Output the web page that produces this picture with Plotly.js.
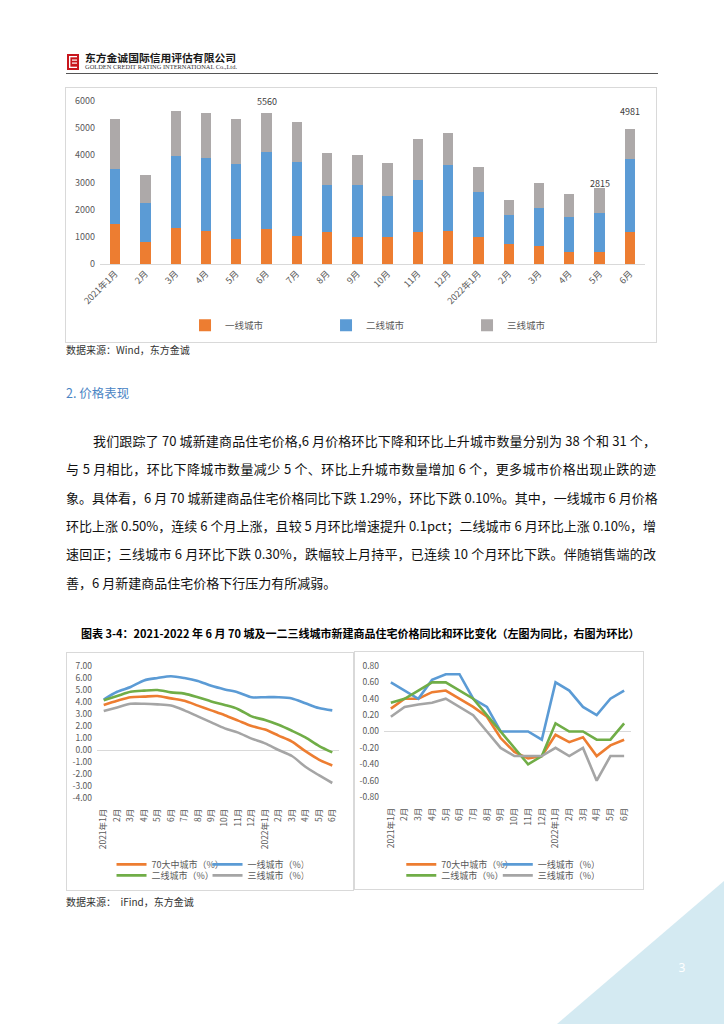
<!DOCTYPE html>
<html><head><meta charset="utf-8">
<script src="https://cdn.plot.ly/plotly-3.0.1.min.js"></script>
<style>
html,body{margin:0;padding:0;background:#fff;}
body{width:724px;height:1024px;position:relative;overflow:hidden;font-family:"Noto Sans CJK SC","Noto Sans",sans-serif;color:#000;}
.a{position:absolute;}
.box{position:absolute;border:1px solid #D9D9D9;box-sizing:border-box;}
.pl{position:absolute;}
.src{position:absolute;font-size:10px;color:#333;white-space:nowrap;line-height:14px;}
.para{position:absolute;font-size:13px;height:28px;line-height:28px;white-space:nowrap;text-align:justify;text-align-last:justify;color:#111;}
</style></head><body>
<svg class="a" style="left:0;top:0" width="724" height="1024">
  <rect x="67" y="54" width="12" height="16" fill="#C8161D"/>
  <rect x="69" y="56" width="1.4" height="12" fill="#fff"/>
  <rect x="69" y="56" width="8" height="1.3" fill="#fff"/>
  <rect x="72" y="59.5" width="5" height="1.2" fill="#fff"/>
  <rect x="72" y="62.5" width="5" height="1.2" fill="#fff"/>
  <rect x="69" y="66.7" width="8" height="1.3" fill="#fff"/>
  <text x="85" y="62" font-size="10.5" font-weight="700" fill="#1a1a1a" textLength="151" lengthAdjust="spacingAndGlyphs" font-family="Noto Sans CJK SC">东方金诚国际信用评估有限公司</text>
  <text x="85" y="69" font-size="5.2" fill="#333" textLength="152" lengthAdjust="spacingAndGlyphs" font-family="Liberation Serif">GOLDEN CREDIT RATING INTERNATIONAL Co.,Ltd.</text>
  <line x1="66" y1="73.5" x2="658" y2="73.5" stroke="#555" stroke-width="1"/>
  <polygon points="557,1024 724,881 724,1024" fill="#D4EAF2"/>
  <text x="682" y="972" font-size="12" fill="#fff" text-anchor="middle" font-family="Noto Sans">3</text>
</svg>

<div class="box" style="left:65px;top:87px;width:592px;height:256px;"></div>
<div id="bar" class="pl" style="left:65px;top:87px;width:592px;height:255px;"></div>
<div class="src" style="left:66px;top:343px;">数据来源：Wind，东方金诚</div>

<div class="a" style="left:66px;top:384px;font-size:12.5px;color:#4A84C4;line-height:18px;white-space:nowrap;">2. 价格表现</div>

<div class="para" style="left:93px;width:563px;top:427px;">我们跟踪了 70 城新建商品住宅价格,6 月价格环比下降和环比上升城市数量分别为 38 个和 31 个，</div>
<div class="para" style="left:66px;width:590px;top:455.3px;">与 5 月相比，环比下降城市数量减少 5 个、环比上升城市数量增加 6 个，更多城市价格出现止跌的迹</div>
<div class="para" style="left:66px;width:590px;top:483.7px;">象。具体看，6 月 70 城新建商品住宅价格同比下跌 1.29%，环比下跌 0.10%。其中，一线城市 6 月价格</div>
<div class="para" style="left:66px;width:590px;top:512px;">环比上涨 0.50%，连续 6 个月上涨，且较 5 月环比增速提升 0.1pct；二线城市 6 月环比上涨 0.10%，增</div>
<div class="para" style="left:66px;width:590px;top:540.3px;">速回正；三线城市 6 月环比下跌 0.30%，跌幅较上月持平，已连续 10 个月环比下跌。伴随销售端的改</div>
<div class="para" style="left:66px;top:568.7px;text-align:left;text-align-last:left;">善，6 月新建商品住宅价格下行压力有所减弱。</div>

<div class="a" style="left:81px;top:624px;font-size:11px;font-weight:700;line-height:18px;white-space:nowrap;color:#000;">图表 3-4：2021-2022 年 6 月 70 城及一二三线城市新建商品住宅价格同比和环比变化（左图为同比，右图为环比）</div>

<div class="box" style="left:66px;top:652px;width:288px;height:239px;"></div>
<div class="box" style="left:354px;top:651px;width:290px;height:239px;"></div>
<div id="yoy" class="pl" style="left:66px;top:652px;width:287px;height:238px;"></div>
<div id="mom" class="pl" style="left:354px;top:651px;width:289px;height:238px;"></div>
<div class="src" style="left:66px;top:895px;">数据来源：&nbsp; iFind，东方金诚</div>

<script>
// ---------- Chart 1: stacked bars ----------
const barCats = ['2021年1月','2月','3月','4月','5月','6月','7月','8月','9月','10月','11月','12月','2022年1月','2月','3月','4月','5月','6月'];
const tier1Sales = [1475, 800, 1340, 1205, 920, 1280, 1020, 1180, 1010, 1000, 1160, 1230, 1010, 750, 680, 455, 455, 1160];
const tier2Sales = [2005, 1450, 2620, 2715, 2745, 2830, 2720, 1710, 1890, 1485, 1940, 2430, 1650, 1045, 1365, 1280, 1415, 2690];
const tier3Sales = [1845, 1010, 1660, 1625, 1660, 1450, 1475, 1180, 1120, 1250, 1510, 1160, 900, 565, 920, 850, 945, 1131];
const barSeriesNames = ['一线城市', '二线城市', '三线城市'];
const labeledMonths = [5, 16, 17];

// ---------- Charts 2 & 3: lines ----------
const lineCats = ['2021年1月','2月','3月','4月','5月','6月','7月','8月','9月','10月','11月','12月','2022年1月','2月','3月','4月','5月','6月'];
const lineSeriesNames = ['70大中城市（%）', '一线城市（%）', '二线城市（%）', '三线城市（%）'];
const yoy70 = [3.75, 4.1, 4.4, 4.45, 4.5, 4.3, 4.1, 3.7, 3.3, 2.9, 2.45, 2.0, 1.7, 1.2, 0.7, -0.1, -0.8, -1.29];
const yoyT1 = [4.2, 4.85, 5.25, 5.8, 6.0, 6.15, 6.0, 5.75, 5.35, 5.05, 4.8, 4.4, 4.4, 4.4, 4.3, 3.9, 3.5, 3.3];
const yoyT2 = [4.15, 4.5, 4.85, 4.95, 5.0, 4.8, 4.7, 4.4, 4.05, 3.75, 3.4, 2.8, 2.5, 2.1, 1.6, 1.05, 0.35, -0.2];
const yoyT3 = [3.25, 3.55, 3.85, 3.85, 3.8, 3.7, 3.3, 2.8, 2.3, 1.8, 1.45, 0.95, 0.55, 0.0, -0.5, -1.4, -2.1, -2.75];
const mom70 = [0.28, 0.4, 0.4, 0.48, 0.5, 0.4, 0.3, 0.18, -0.08, -0.25, -0.33, -0.3, -0.04, -0.13, -0.07, -0.3, -0.17, -0.1];
const momT1 = [0.6, 0.5, 0.4, 0.63, 0.7, 0.7, 0.4, 0.3, 0.0, 0.0, 0.0, -0.1, 0.6, 0.5, 0.3, 0.2, 0.4, 0.5];
const momT2 = [0.35, 0.4, 0.5, 0.6, 0.6, 0.5, 0.4, 0.2, 0.0, -0.2, -0.4, -0.3, 0.1, 0.0, 0.0, -0.1, -0.1, 0.1];
const momT3 = [0.18, 0.3, 0.33, 0.35, 0.4, 0.3, 0.2, 0.0, -0.2, -0.3, -0.3, -0.3, -0.2, -0.3, -0.2, -0.6, -0.3, -0.3];
const yoyTicks = [7, 6, 5, 4, 3, 2, 1, 0, -1, -2, -3, -4];
const yoyTickLabels = ['7.00','6.00','5.00','4.00','3.00','2.00','1.00','0.00','-1.00','-2.00','-3.00','-4.00'];
const momTicks = [0.8, 0.6, 0.4, 0.2, 0, -0.2, -0.4, -0.6, -0.8];
const momTickLabels = ['0.80','0.60','0.40','0.20','0.00','-0.20','-0.40','-0.60','-0.80'];

const FONT = '"Noto Sans CJK SC", "Noto Sans", sans-serif';
const TXT = '#595959';
const cOrange = '#ED7D31', cBlue = '#5B9BD5', cGreen = '#70AD47', cGray = '#A5A5A5', cBarGray = '#ADA9A9';
const cfg = {staticPlot: true, displayModeBar: false};

// ----- bar chart -----
const bx = barCats.map((c, i) => i);
const totals = bx.map(i => tier1Sales[i] + tier2Sales[i] + tier3Sales[i]);
const barColors = [cOrange, cBlue, cBarGray];
const barData = [tier1Sales, tier2Sales, tier3Sales].map((v, k) => ({
  type: 'bar', x: bx, y: v, name: barSeriesNames[k],
  marker: {color: barColors[k], line: {width: 0}}
}));
const labelLift = [3, -4, 9];
Plotly.newPlot('bar', barData, {
  width: 592, height: 255,
  margin: {l: 35, r: 12, t: 14, b: 78, pad: 0, autoexpand: false},
  paper_bgcolor: 'rgba(0,0,0,0)', plot_bgcolor: 'rgba(0,0,0,0)',
  barmode: 'stack', bargap: 0.66,
  font: {family: FONT, size: 9, color: TXT},
  xaxis: {range: [-0.5, 17.5], tickvals: bx, ticktext: barCats, tickangle: -45,
          showline: true, linecolor: '#D9D9D9', linewidth: 1, ticks: '', showgrid: false, zeroline: false,
          automargin: false, tickfont: {size: 9, color: TXT}, fixedrange: true},
  yaxis: {range: [0, 6000], dtick: 1000, tickformat: 'd', showgrid: false, zeroline: false, showline: false,
          ticks: '', automargin: false, ticklabelstandoff: 4, tickfont: {size: 9, color: TXT}},
  showlegend: true,
  legend: {orientation: 'h', x: 0.156, xanchor: 'left', y: -0.376, yanchor: 'middle',
           entrywidth: 96, entrywidthmode: 'pixels', bgcolor: 'rgba(0,0,0,0)',
           font: {size: 9.5, color: TXT}, traceorder: 'normal'},
  annotations: labeledMonths.map((i, k) => ({
    x: i, y: totals[i], text: String(totals[i]), showarrow: false, yanchor: 'bottom',
    yshift: labelLift[k], font: {size: 9, color: '#404040'}
  }))
}, cfg);

// ----- line charts -----
function lineChart(id, w, h, m, series, smooth, ticks, tickLabels, yr, leg) {
  const lx = lineCats.map((c, i) => i);
  const colors = [cOrange, cBlue, cGreen, cGray];
  const data = series.map((v, k) => ({
    type: 'scatter', mode: 'lines', x: lx, y: v, name: lineSeriesNames[k],
    line: {color: colors[k], width: 2.6, shape: smooth ? 'spline' : 'linear', smoothing: 0.8},
    legend: k < 2 ? 'legend' : 'legend2'
  }));
  const legBase = {orientation: 'h', xanchor: 'left', yanchor: 'middle', entrywidth: leg.ew, entrywidthmode: 'pixels',
                   bgcolor: 'rgba(0,0,0,0)', font: {size: 9, color: TXT}, traceorder: 'normal'};
  Plotly.newPlot(id, data, {
    width: w, height: h, margin: Object.assign({autoexpand: false}, m),
    paper_bgcolor: 'rgba(0,0,0,0)', plot_bgcolor: 'rgba(0,0,0,0)',
    font: {family: FONT, size: 8.5, color: TXT},
    xaxis: {range: [-0.5, 17.5], tickvals: lx, ticktext: lineCats, tickangle: -90, showline: false, ticks: '',
            showgrid: false, zeroline: false, automargin: false, ticklabelstandoff: 8, tickfont: {size: 8.5, color: TXT}},
    yaxis: {range: yr, tickvals: ticks, ticktext: tickLabels, showgrid: false, zeroline: true, zerolinecolor: '#D9D9D9',
            zerolinewidth: 1, showline: false, ticks: '', automargin: false, ticklabelstandoff: 4, tickfont: {size: 8.5, color: TXT}},
    showlegend: true,
    legend: Object.assign({}, legBase, {x: leg.x, y: leg.y1}),
    legend2: Object.assign({}, legBase, {x: leg.x, y: leg.y2})
  }, cfg);
}
lineChart('yoy', 287, 238, {l: 30.5, r: 13.6, t: 13.7, b: 92.3, pad: 0}, [yoy70, yoyT1, yoyT2, yoyT3], true,
          yoyTicks, yoyTickLabels, [-4, 7], {x: 0.06, ew: 51, y1: -0.503, y2: -0.586});
lineChart('mom', 289, 238, {l: 29.8, r: 11.9, t: 14.7, b: 92.3, pad: 0}, [mom70, momT1, momT2, momT3], false,
          momTicks, momTickLabels, [-0.8, 0.8], {x: 0.07, ew: 51.5, y1: -0.514, y2: -0.598});
</script>
</body></html>
